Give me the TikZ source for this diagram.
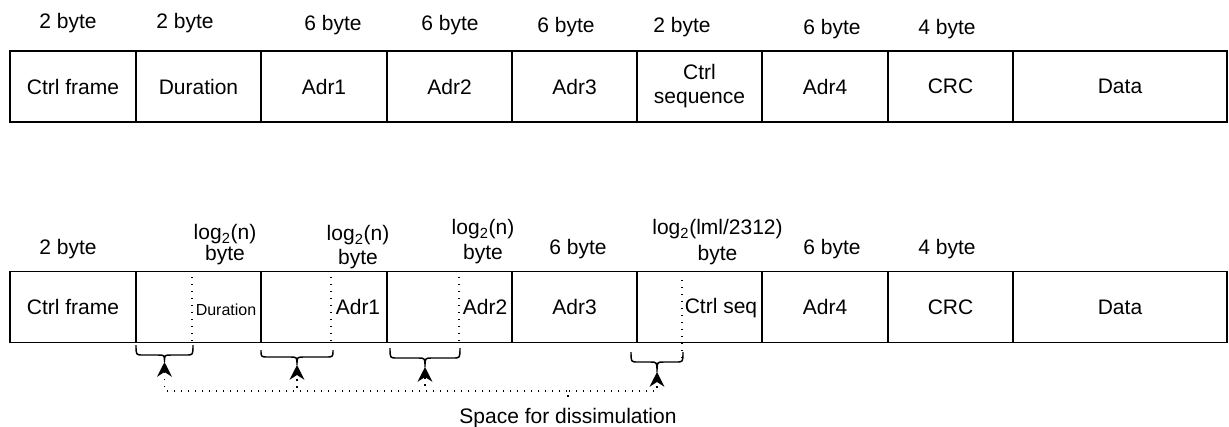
\documentclass[tikz,border=0pt]{standalone}
\usepackage{fontspec}
\setmainfont{Liberation Sans}
\usetikzlibrary{arrows.meta}
\newcommand\fsmain{\fontsize{15.75}{18}\selectfont}
\newcommand\fssmall{\fontsize{12}{14}\selectfont}
\begin{document}
\begin{tikzpicture}[x=0.75pt,y=-0.75pt,
  cell/.style={draw,line width=1.1pt,inner sep=0pt,minimum height=53.5pt,font=\fsmain,align=center},
  lbl/.style={inner sep=0pt,font=\fsmain,align=center},
  smalltxt/.style={inner sep=0pt,font=\fssmall},
  dotl/.style={line width=1.1pt,dash pattern=on 1.1pt off 4.15pt},
  conn/.style={dotl,-{Stealth[length=11pt,width=11pt,inset=3.5pt]}},
  brc/.style={draw,line width=1.1pt,line join=round}]
\useasboundingbox (0,0) rectangle (1229,426);

% ---------- top row ----------
\node[cell,minimum width=94.5pt]  (tc1) at (73,86.5)    {Ctrl frame};
\node[cell,minimum width=93.75pt] (tc2) at (198.5,86.5) {Duration};
\node[cell,minimum width=94.5pt]  (tc3) at (324,86.5)   {Adr1};
\node[cell,minimum width=93.75pt] (tc4) at (449.5,86.5) {Adr2};
\node[cell,minimum width=93.75pt] (tc5) at (574.5,86.5) {Adr3};
\node[cell,minimum width=93.75pt] (tc6) at (699.5,86.5) {Ctrl\\[0pt]sequence};
\node[cell,minimum width=94.5pt]  (tc7) at (825,86.5)   {Adr4};
\node[cell,minimum width=93.75pt] (tc8) at (950.5,86.5) {CRC};
\node[cell,minimum width=160.5pt] (tc9) at (1120,86.5)  {Data};

\node[lbl] (tl1) at (68,23)  {2 byte};
\node[lbl] (tl2) at (185,23) {2 byte};
\node[lbl] (tl3) at (333,25) {6 byte};
\node[lbl] (tl4) at (450,25) {6 byte};
\node[lbl] (tl5) at (566,27) {6 byte};
\node[lbl] (tl6) at (682,27) {2 byte};
\node[lbl] (tl7) at (832,29) {6 byte};
\node[lbl] (tl8) at (947,29) {4 byte};

% ---------- bottom row ----------
\node[cell,minimum width=94.5pt]  (bc1) at (73,307)    {Ctrl frame};
\node[cell,minimum width=93.75pt] (bc2) at (198.5,307) {};
\node[cell,minimum width=94.5pt]  (bc3) at (324,307)   {};
\node[cell,minimum width=93.75pt] (bc4) at (449.5,307) {};
\node[cell,minimum width=93.75pt] (bc5) at (574.5,307) {Adr3};
\node[cell,minimum width=93.75pt] (bc6) at (699.5,307) {};
\node[cell,minimum width=94.5pt]  (bc7) at (825,307)   {Adr4};
\node[cell,minimum width=93.75pt] (bc8) at (950.5,307) {CRC};
\node[cell,minimum width=160.5pt] (bc9) at (1120,307)  {Data};

\draw[dotl] (192,277) -- (192,343);
\draw[dotl] (331,277) -- (331,343);
\draw[dotl] (459,277) -- (459,343);
\draw[dotl] (682,280) -- (682,358);

\node[smalltxt] (bt2) at (226,310) {Duration};
\node[lbl] (bt3) at (358,307) {Adr1};
\node[lbl] (bt4) at (485,307) {Adr2};
\node[lbl] (bt6) at (721,308) {Ctrl seq};

\node[lbl] (bl1) at (68,249)      {2 byte};
\node[lbl] (bl2) at (225,244.5)   {log\textsubscript{2}(n)\\[-2.25pt]byte};
\node[lbl] (bl3) at (358,247)     {log\textsubscript{2}(n)\\byte};
\node[lbl] (bl4) at (483,241.5)   {log\textsubscript{2}(n)\\[0.75pt]byte};
\node[lbl] (bl5) at (578,249)     {6 byte};
\node[lbl] (bl6) at (717.5,242)   {log\textsubscript{2}(lml/2312)\\[1.5pt]byte};
\node[lbl] (bl7) at (832,249)     {6 byte};
\node[lbl] (bl8) at (947,249)     {4 byte};

% ---------- braces ----------
\draw[brc] (136,345) .. controls (136,355) .. (143,355) -- (158,355)
  .. controls (164.5,355) .. (164.5,362) .. controls (164.5,355) .. (171,355)
  -- (186,355) .. controls (193,355) .. (193,345);
\draw[brc] (261,350) .. controls (261,357) .. (268,357) -- (290,357)
  .. controls (297,357) .. (297,365) .. controls (297,357) .. (304,357)
  -- (326,357) .. controls (333,357) .. (333,350);
\draw[brc] (390,348) .. controls (390,358) .. (397,358) -- (418,358)
  .. controls (425,358) .. (425,367) .. controls (425,358) .. (432,358)
  -- (453,358) .. controls (460,358) .. (460,348);
\draw[brc] (631,352) .. controls (631,362) .. (638,362) -- (650,362)
  .. controls (657,362) .. (657,372) .. controls (657,362) .. (664,362)
  -- (676,362) .. controls (683,362) .. (683,352);
\coordinate (b1) at (164.5,362);
\coordinate (b2) at (297,365);
\coordinate (b3) at (425,367);
\coordinate (b4) at (657,372);

% ---------- label and connectors ----------
\node[lbl,inner ysep=8pt,anchor=base] (sd) at (568,423) {Space for dissimulation};
\draw[conn] (sd.north) -- ++(0,-6) -| (b1);
\draw[conn] (sd.north) -- ++(0,-6) -| (b2);
\draw[conn] (sd.north) -- ++(0,-6) -| (b3);
\draw[conn] (sd.north) -- ++(0,-6) -| (b4);
\end{tikzpicture}
\end{document}
